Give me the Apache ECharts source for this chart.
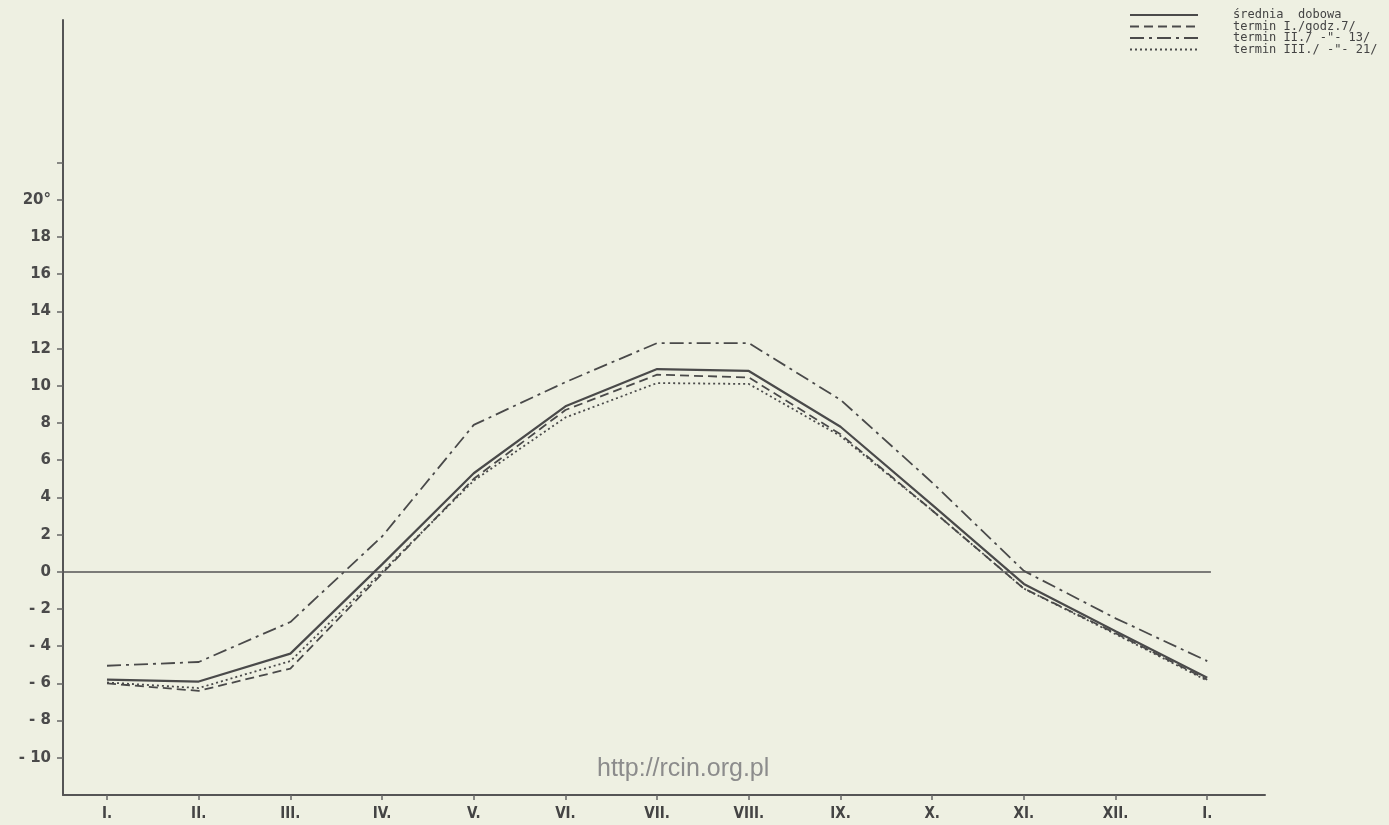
<!DOCTYPE html>
<html>
<head>
<meta charset="utf-8">
<script src="https://cdn.jsdelivr.net/npm/echarts@6/dist/echarts.min.js"></script>
<style>
html,body{margin:0;padding:0;background:#eef0e2;}
#c{width:1389px;height:825px;}
</style>
</head>
<body>
<div id="c"></div>
<script>
const months = ['I.', 'II.', 'III.', 'IV.', 'V.', 'VI.', 'VII.', 'VIII.', 'IX.', 'X.', 'XI.', 'XII.', 'I.'];
const yTickLabels = { '20': '20°', '18': '18', '16': '16', '14': '14', '12': '12', '10': '10', '8': '8', '6': '6', '4': '4', '2': '2', '0': '0', '-2': '- 2', '-4': '- 4', '-6': '- 6', '-8': '- 8', '-10': '- 10' };
const seriesNames = ['średnia  dobowa', 'termin I./godz.7/', 'termin II./ -"- 13/', 'termin III./ -"- 21/'];
const sredniaDobowa = [-5.8, -5.9, -4.4, 0.4, 5.3, 8.9, 10.9, 10.8, 7.8, 3.6, -0.65, -3.2, -5.7];
const termin7 = [-6.0, -6.4, -5.2, -0.1, 5.0, 8.7, 10.6, 10.45, 7.4, 3.3, -0.9, -3.3, -5.8];
const termin13 = [-5.05, -4.85, -2.7, 1.9, 7.9, 10.2, 12.3, 12.3, 9.25, 4.8, 0.05, -2.5, -4.8];
const termin21 = [-5.95, -6.25, -4.8, 0.0, 4.9, 8.3, 10.15, 10.1, 7.3, 3.3, -0.9, -3.35, -5.85];

const ink = '#4a4a4a';
const toPts = arr => arr.map((v, i) => [i, v]);
const monthIdx = months.map((m, i) => i);
const yLabelVals = Object.keys(yTickLabels).map(Number).sort((a, b) => a - b);

const chart = echarts.init(document.getElementById('c'));
const lineStyles = [
  { width: 2.2, type: 'solid' },
  { width: 1.8, type: [9, 5] },
  { width: 1.8, type: [14, 5, 3, 5] },
  { width: 1.8, type: [2, 3] }
];
const datasets = [sredniaDobowa, termin7, termin13, termin21];

const series = datasets.map((d, k) => ({
  name: seriesNames[k],
  type: 'line',
  data: toPts(d),
  symbol: 'none',
  showSymbol: false,
  silent: true,
  z: 5 - k,
  lineStyle: Object.assign({ color: ink }, lineStyles[k]),
  itemStyle: { color: ink }
}));
series[0].markLine = {
  silent: true,
  symbol: 'none',
  label: { show: false },
  lineStyle: { color: '#555', width: 1.6, type: 'solid' },
  data: [[{ coord: [-0.48, 0] }, { coord: [12.04, 0] }]]
};

// legend drawn as graphic elements (line sample + label), top-right
const legendGraphic = [];
seriesNames.forEach((name, k) => {
  const y = 15 + k * 11.5;
  const ls = lineStyles[k];
  legendGraphic.push({
    type: 'line',
    silent: true,
    shape: { x1: 1130, y1: y, x2: 1198, y2: y },
    style: {
      stroke: ink,
      lineWidth: ls.width,
      lineDash: Array.isArray(ls.type) ? ls.type : null
    }
  });
  legendGraphic.push({
    type: 'text',
    silent: true,
    x: 1233,
    y: y,
    style: {
      text: name,
      fontFamily: "'DejaVu Sans Mono', monospace",
      fontSize: 12,
      fill: '#444',
      verticalAlign: 'middle',
      align: 'left'
    }
  });
});

chart.setOption({
  backgroundColor: '#eef0e2',
  animation: false,
  grid: { left: 63, right: 124, top: 20, bottom: 30 },
  xAxis: {
    type: 'value',
    min: -0.48,
    max: 12.63,
    splitLine: { show: false },
    axisLine: { show: true, onZero: false, lineStyle: { color: '#555', width: 2 } },
    axisTick: { show: true, inside: false, length: 5, customValues: monthIdx, lineStyle: { color: '#666', width: 1.5 } },
    axisLabel: {
      customValues: monthIdx,
      formatter: v => months[Math.round(v)],
      margin: 12,
      fontFamily: "'Liberation Sans Narrow', 'DejaVu Sans Condensed', sans-serif",
      fontWeight: 'bold',
      fontSize: 15,
      color: '#444'
    }
  },
  yAxis: {
    type: 'value',
    min: -12,
    max: 29.67,
    splitLine: { show: false },
    axisLine: { show: true, onZero: false, lineStyle: { color: '#555', width: 2 } },
    axisTick: { show: true, length: 6, customValues: yLabelVals.concat([22]), lineStyle: { color: '#666', width: 1.5 } },
    axisLabel: {
      customValues: yLabelVals,
      formatter: v => yTickLabels[String(Math.round(v))] || '',
      margin: 12,
      fontFamily: "'DejaVu Sans', sans-serif",
      fontWeight: 'bold',
      fontSize: 15,
      color: '#4a4a4a'
    }
  },
  graphic: legendGraphic.concat([{
    type: 'text',
    left: 597,
    top: 757,
    silent: true,
    style: {
      text: 'http://rcin.org.pl',
      fontFamily: "'Liberation Sans', Arial, sans-serif",
      fontSize: 25,
      fill: '#8c8c8c'
    }
  }]),
  series: series
});
</script>
</body>
</html>
